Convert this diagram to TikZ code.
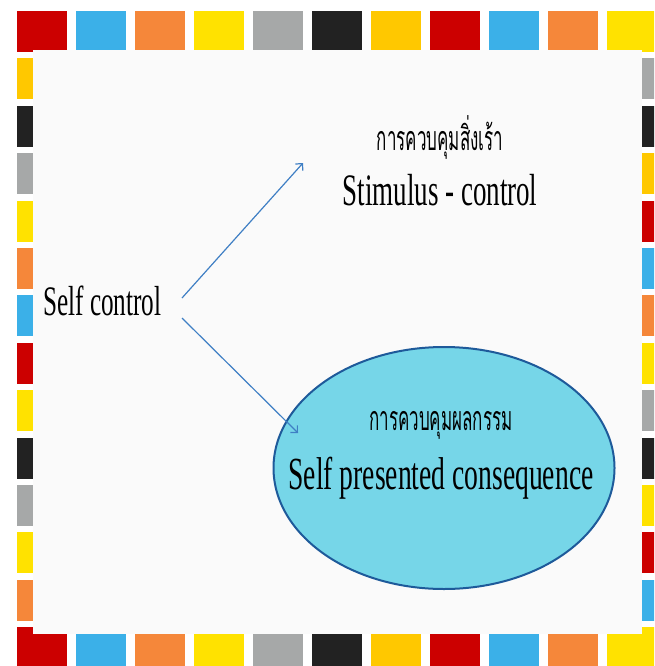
\documentclass[tikz,border=0pt]{standalone}
\usepackage{fontspec}
\setmainfont{Liberation Serif}
\newfontfamily\slidefont{Liberation Serif}[FakeStretch=0.6]
\newfontfamily\thaifont[Script=Thai,FakeStretch=0.5]{Loma}
\usetikzlibrary{arrows.meta,shapes.geometric}

\definecolor{tilered}{HTML}{CC0000}
\definecolor{tileblue}{HTML}{3BB0E8}
\definecolor{tileorange}{HTML}{F5873A}
\definecolor{tileyellow}{HTML}{FFE200}
\definecolor{tilegold}{HTML}{FFC800}
\definecolor{tilegray}{HTML}{A6A8A8}
\definecolor{tileblack}{HTML}{222222}
\definecolor{panelwhite}{HTML}{FAFAFA}
\definecolor{ovalfill}{HTML}{76D6E8}
\definecolor{ovaledge}{HTML}{1E5A9A}
\definecolor{arrowblue}{HTML}{3F7FC4}

\begin{document}
\begin{tikzpicture}[x=1pt, y=-1pt,
    tile/.style={fill=#1},
    slidetext/.style={inner sep=0pt, anchor=base, font=\slidefont\fontsize{#1}{#1}\selectfont},
    thaitext/.style={inner sep=0pt, anchor=base, font=\thaifont\fontsize{#1}{#1}\selectfont},
    link/.style={draw=arrowblue, line width=1.2pt, -{Straight Barb[length=5pt,width=10pt]}}]
    \useasboundingbox (0,0) rectangle (654,666);
    \clip (0,0) rectangle (654,666);
    % coloured frame
    \foreach \c [count=\i from 0] in {tilered,tileblue,tileorange,tileyellow,tilegray,tileblack,tilegold,tilered,tileblue,tileorange,tileyellow}{
        \fill[tile=\c] (17+59*\i, 11) rectangle ++(50,41);
        \fill[tile=\c] (17+59*\i, 627.2) rectangle ++(50,41);
    }
    \foreach \c [count=\j from 1] in {tilegold,tileblack,tilegray,tileyellow,tileorange,tileblue,tilered,tileyellow,tileblack,tilegray,tileyellow,tileorange}
        \fill[tile=\c] (17, 11+47.4*\j) rectangle ++(50,41);
    \foreach \c [count=\j from 1] in {tilegray,tileblack,tilegold,tilered,tileblue,tileorange,tileyellow,tilegray,tileblack,tileyellow,tilered,tileblue}
        \fill[tile=\c] (607, 11+47.4*\j) rectangle ++(50,41);
    \fill[panelwhite] (33,50) rectangle (642,634);

    \node[ellipse, draw=ovaledge, fill=ovalfill, line width=2pt, minimum width=341pt, minimum height=242pt, inner sep=0pt] (oval) at (444,468) {};

    \node[slidetext=42, anchor=base west] (self) at (43,315) {Self control};
    \node[thaitext=34] (stimthai) at (440,150) {การควบคุมสิ่งเร้า};
    \node[slidetext=45] (stim) at (440,205) {Stimulus - control};
    \node[thaitext=34] (conthai) at (441,430) {การควบคุมผลกรรม};
    \node[slidetext=46] (conseq) at (441,489) {Self presented consequence};

    \coordinate (fork1) at (182,298);
    \coordinate (fork2) at (182,318);
    \coordinate (tip1) at (303,163);
    \coordinate (tip2) at (298,433);
    \draw[link] (fork1) -- (tip1);
    \draw[link] (fork2) -- (tip2);
\end{tikzpicture}
\end{document}
